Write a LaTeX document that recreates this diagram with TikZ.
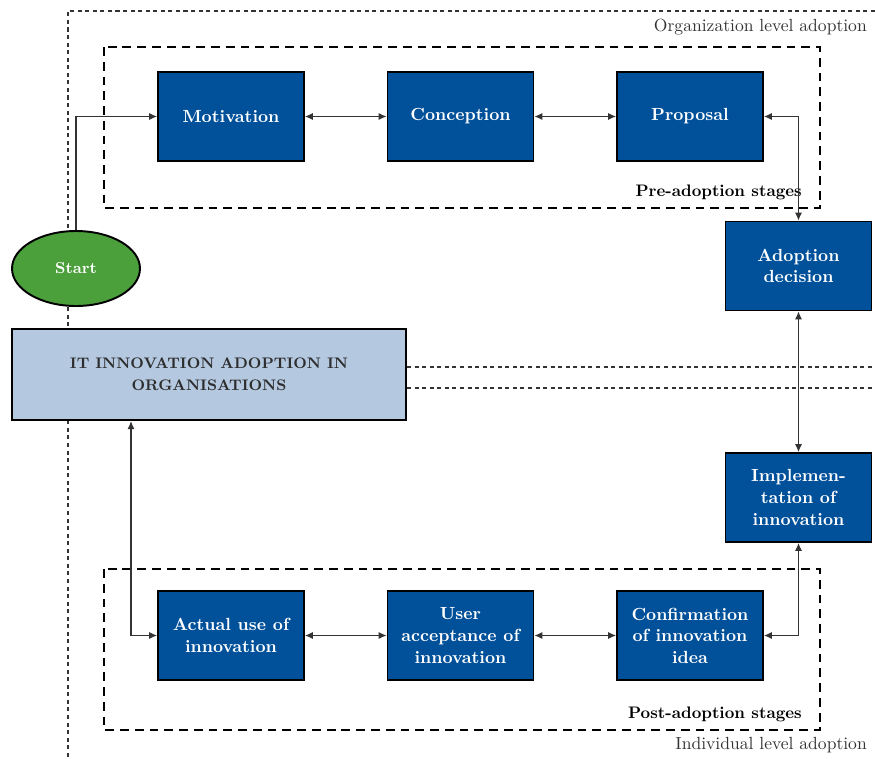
\documentclass[tikz,border=0pt]{standalone}
\usetikzlibrary{arrows.meta,shapes.geometric}
\definecolor{stageblue}{RGB}{0,81,154}
\definecolor{startgreen}{RGB}{76,160,60}
\definecolor{itblue}{RGB}{180,200,224}
\definecolor{ittext}{RGB}{45,45,45}
\begin{document}
\begin{tikzpicture}[x=0.02cm,y=-0.02cm,
  stagebox/.style={draw=black, line width=1.1pt, fill=stageblue, text=white, align=center, minimum width=2.92cm, minimum height=1.78cm, inner sep=0pt, font=\fontsize{10}{12.3}\selectfont\bfseries},
  link/.style={draw=black!80, line width=0.6pt, {Latex[length=4.5pt,width=4pt]}-{Latex[length=4.5pt,width=4pt]}},
  levelline/.style={draw=black!80, line width=0.6pt, dash pattern=on 2.3pt off 2pt},
  fence/.style={draw=black, line width=1.6pt, dash pattern=on 5pt off 3.4pt}]
\useasboundingbox (0,0) rectangle (875,758);
\draw[levelline] (875,11) -- (68,11) -- (68,758);
\draw[fence] (104,47) rectangle (820,208);
\draw[fence] (104,569) rectangle (820,730);
\node[anchor=east, font=\fontsize{10}{12}\selectfont, text=black!80] (orglevel) at (873,27) {Organization level adoption};
\node[anchor=east, font=\fontsize{10}{12}\selectfont, text=black!80] (indlevel) at (873,745) {Individual level adoption};
\node[anchor=east, font=\fontsize{9.5}{12}\selectfont\bfseries] (prelabel) at (808,192) {Pre-adoption stages};
\node[anchor=east, font=\fontsize{9.5}{12}\selectfont\bfseries] (postlabel) at (808,714) {Post-adoption stages};
\node[stagebox] (motivation) at (231,116.5) {Motivation};
\node[stagebox] (conception) at (460.5,116.5) {Conception};
\node[stagebox] (proposal) at (690,116.5) {Proposal};
\node[stagebox] (decision) at (798.5,266) {Adoption\\decision};
\node[stagebox] (implement) at (798.5,497.5) {Implemen-\\tation of\\innovation};
\node[stagebox] (actual) at (231,635.5) {Actual use of\\innovation};
\node[stagebox] (accept) at (460.5,635.5) {User\\acceptance of\\innovation};
\node[stagebox] (confirm) at (690,635.5) {Confirmation\\of innovation\\idea};
\node[ellipse, draw=black, line width=1.1pt, fill=startgreen, text=white, minimum width=2.56cm, minimum height=1.5cm, font=\fontsize{9}{11}\selectfont\bfseries] (start) at (76,268.5) {Start};
\node[draw=black, line width=1.3pt, fill=itblue, text=ittext, align=center, minimum width=7.88cm, minimum height=1.82cm, font=\fontsize{8.7}{12.3}\selectfont\bfseries] (it) at (209,374.5) {IT INNOVATION ADOPTION IN\\ORGANISATIONS};
\draw[levelline] (it.east |- 0,367) -- (875,367);
\draw[levelline] (it.east |- 0,388) -- (875,388);
\coordinate (itline) at (131,0);
\draw[draw=black!80, line width=0.6pt, -{Latex[length=4.5pt,width=4pt]}] (start.north) |- (motivation.west);
\draw[link] (motivation) -- (conception);
\draw[link] (conception) -- (proposal);
\draw[link] (proposal.east) -| (decision.north);
\draw[link] (decision) -- (implement);
\draw[link] (confirm.east) -| (implement.south);
\draw[link] (confirm) -- (accept);
\draw[link] (accept) -- (actual);
\draw[link] (it.south -| itline) |- (actual.west);
\end{tikzpicture}
\end{document}
